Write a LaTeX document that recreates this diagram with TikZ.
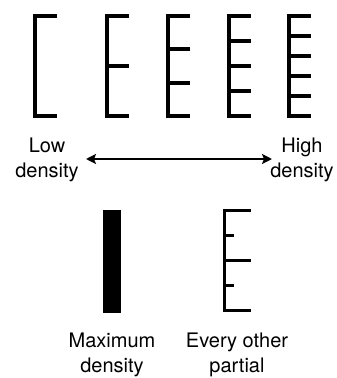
\documentclass[tikz,border=0pt]{standalone}
\usepackage{fontspec}
\setmainfont{TeX Gyre Heros}
\usetikzlibrary{arrows.meta}

\begin{document}
\begin{tikzpicture}[
        x=1pt,y=-1pt,
        lbl/.style={font=\fontsize{20}{25}\selectfont,align=center,inner sep=0pt},
        comb/.style={line width=4pt},
        thin comb/.style={line width=3pt}
      ]
      \useasboundingbox (0,0) rectangle (337,378);

      % combs, from low to high density
      \foreach \x/\n in {35/1,107/2,168/3,229/4,289/5}{
        \draw[comb] (\x,14) -- (\x,118);
        \foreach \i in {0,...,\n}
          \draw[comb] (\x,{16+100*\i/\n}) -- (\x+22,{16+100*\i/\n});
      }

      \node[lbl] (low) at (47,160) {Low\\density};
      \node[lbl] (high) at (302,160) {High\\density};
      \coordinate (lowend) at (86,159);
      \coordinate (highend) at (272,159);
      \draw[line width=2pt,{Stealth[length=10pt,width=10pt,inset=2pt]}-{Stealth[length=10pt,width=10pt,inset=2pt]}] (lowend) -- (highend);

      % maximum density
      \fill (103,210) rectangle (121,313);
      % every other partial
      \draw[thin comb] (224,208.5) -- (224,311.5);
      \foreach \i/\l in {0/27,1/10,2/27,3/10,4/27}
        \draw[thin comb] (224,{210+25*\i}) -- (224+\l,{210+25*\i});

      \node[lbl] (maxd) at (112,355) {Maximum\\density};
      \node[lbl] (other) at (237,355) {Every other\\partial};
    \end{tikzpicture}
\end{document}
